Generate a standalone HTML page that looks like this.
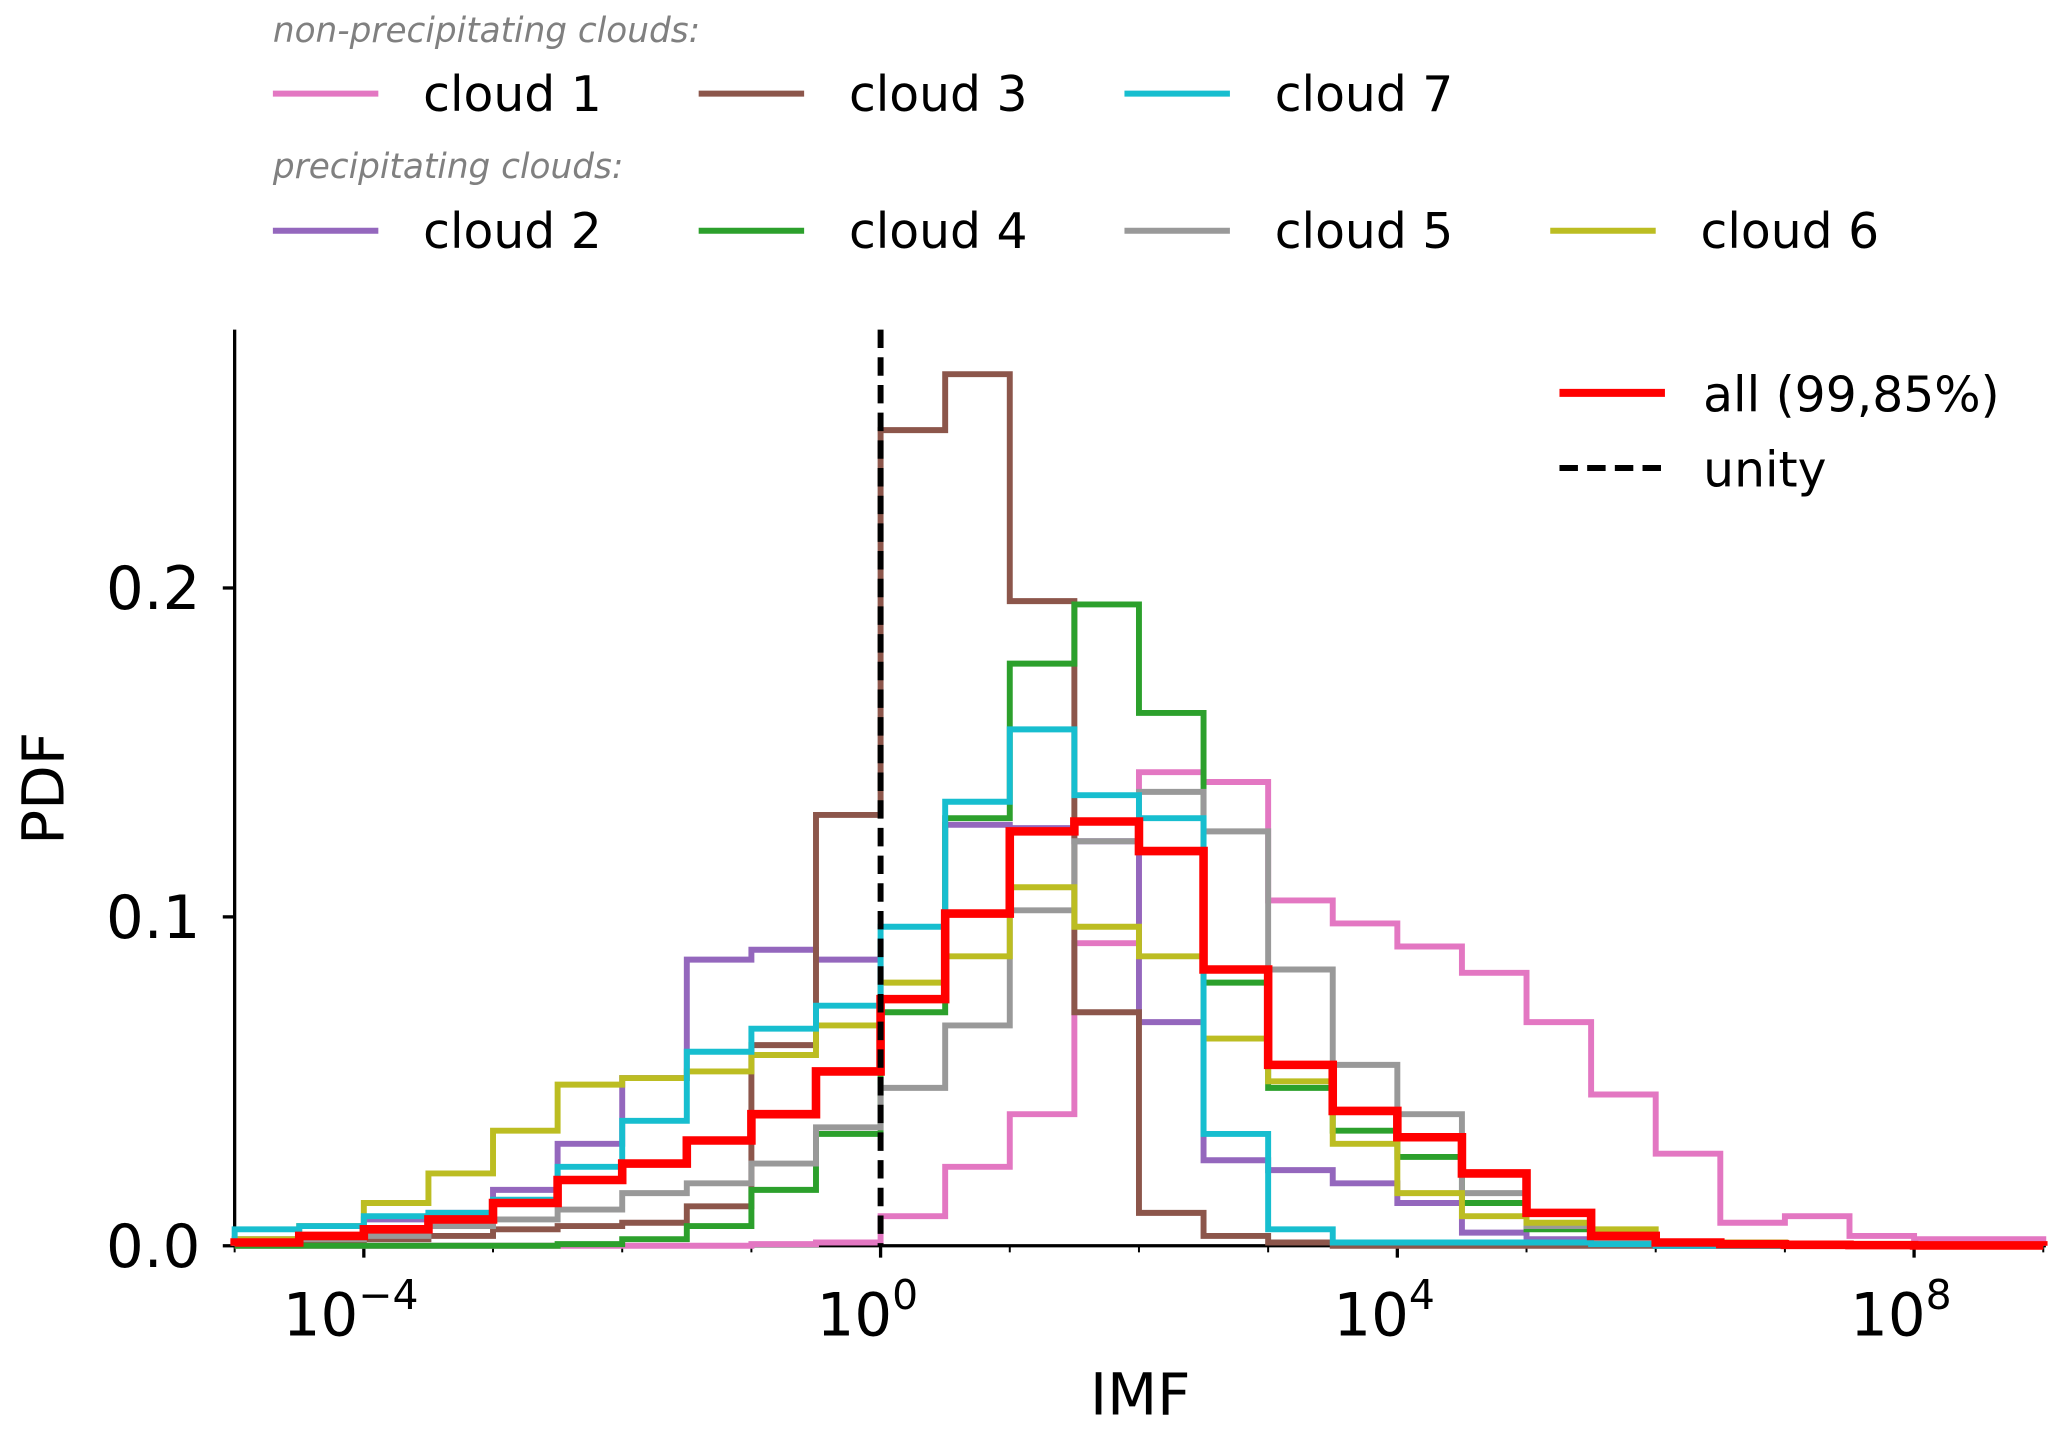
<!DOCTYPE html>
<html><head><meta charset="utf-8"><style>
html,body{margin:0;padding:0;background:#fff}
svg{display:block;font-family:"DejaVu Sans","Liberation Sans",sans-serif}
</style></head><body>
<svg id="chart" width="2067" height="1433" viewBox="0 0 1568 1087" xmlns="http://www.w3.org/2000/svg">
<g id="legend-top">
<text x="207" y="32" font-size="26" font-style="italic" fill="#808080">non-precipitating clouds:</text>
<text x="207" y="135" font-size="26" font-style="italic" fill="#808080">precipitating clouds:</text>
</g>
<g id="axes"></g>
<g id="marks"></g>
<g id="legend-inner">
<line x1="1183" y1="298" x2="1263" y2="298" stroke="#ff0000" stroke-width="6"/>
<text x="1292" y="312" font-size="37">all (99,85%)</text>
<line x1="1183" y1="355" x2="1263" y2="355" stroke="#000" stroke-width="4.5" stroke-dasharray="14,7"/>
<text x="1292" y="369" font-size="37">unity</text>
</g>
</svg>
<script>
const binExponents = [-5,-4.5,-4,-3.5,-3,-2.5,-2,-1.5,-1,-0.5,0,0.5,1,1.5,2,2.5,3,3.5,4,4.5,5,5.5,6,6.5,7,7.5,8,8.5,9];
const cloud1 = [0,0,0,0,0,0,0,0,0.0005,0.001,0.009,0.024,0.04,0.092,0.144,0.141,0.105,0.098,0.091,0.083,0.068,0.046,0.028,0.007,0.009,0.003,0.002,0.002];
const cloud2 = [0.002,0.003,0.008,0.01,0.017,0.031,0.051,0.087,0.09,0.087,0.075,0.128,0.127,0.123,0.068,0.026,0.023,0.019,0.013,0.004,0.002,0.001,0,0,0,0,0,0];
const cloud3 = [0.001,0.001,0.002,0.003,0.005,0.006,0.007,0.012,0.061,0.131,0.248,0.265,0.196,0.071,0.01,0.003,0.001,0,0,0,0,0,0,0,0,0,0,0];
const cloud4 = [0,0,0,0,0,0.0005,0.002,0.006,0.017,0.034,0.071,0.13,0.177,0.195,0.162,0.08,0.048,0.035,0.027,0.013,0.005,0.003,0.001,0,0,0,0,0];
const cloud5 = [0.001,0.002,0.003,0.006,0.008,0.011,0.016,0.019,0.025,0.036,0.048,0.067,0.102,0.123,0.138,0.126,0.084,0.055,0.04,0.016,0.006,0.002,0.001,0,0,0,0,0];
const cloud6 = [0.002,0.006,0.013,0.022,0.035,0.049,0.051,0.053,0.058,0.067,0.08,0.088,0.109,0.097,0.088,0.063,0.05,0.031,0.016,0.009,0.007,0.005,0.001,0.001,0,0,0,0];
const cloud7 = [0.005,0.006,0.009,0.01,0.014,0.024,0.038,0.059,0.066,0.073,0.097,0.135,0.157,0.137,0.13,0.034,0.005,0.001,0.001,0.001,0.001,0.0005,0,0,0,0,0,0];
const allClouds = [0.001,0.003,0.005,0.008,0.013,0.02,0.025,0.032,0.04,0.053,0.075,0.101,0.126,0.129,0.12,0.084,0.055,0.041,0.033,0.022,0.01,0.003,0.001,0.0005,0.0003,0.0002,0.0001,0.0001];
const yTicks = [0, 0.1, 0.2];
const yTickLabels = ["0.0","0.1","0.2"];
const xTickExps = [-4, 0, 4, 8];
const xTickLabels = ["\u22124","0","4","8"];
const unityExp = 0;

const NS="http://www.w3.org/2000/svg";
const X0=178, X1=1552, Y0=945, YTOP=250;
function xScale(e){return 668 + (e-0)*98;}
function yScale(v){return Y0 - v*2495;}
function mk(tag, attrs, parent){const el=document.createElementNS(NS,tag);for(const k in attrs)el.setAttribute(k,attrs[k]);parent.appendChild(el);return el;}
const axes=document.getElementById('axes'), marks=document.getElementById('marks'), lt=document.getElementById('legend-top');

let sp=mk('line',{x1:X0,y1:YTOP,x2:X0,y2:Y0+1,stroke:'#000','stroke-width':2.5},axes);


sp=mk('line',{x1:X0-1,y1:Y0,x2:X1,y2:Y0,stroke:'#000','stroke-width':2.5},axes);



yTicks.forEach((v,i)=>{
  const y=yScale(v);
  const t=mk('line',{x1:X0-9,y1:y,x2:X0,y2:y,stroke:'#000','stroke-width':2.5},axes);
  
  
  const tx=mk('text',{x:X0-26,y:y+16,'font-size':45,'text-anchor':'end'},axes);
  tx.textContent=yTickLabels[i];
  
  
});
for(let e=-5;e<=9;e++){
  const x=xScale(e);
  const t=mk('line',{x1:x,y1:Y0,x2:x,y2:Y0+5,stroke:'#000','stroke-width':1.5},axes);
  
  
}
xTickExps.forEach((e,i)=>{
  const x=xScale(e);
  const t=mk('line',{x1:x,y1:Y0,x2:x,y2:Y0+9,stroke:'#000','stroke-width':2.5},axes);
  
  
  const tx=mk('text',{x:x-10,y:Y0+68,'font-size':45,'text-anchor':'middle'},axes);
  
  
  tx.appendChild(document.createTextNode('10'));
  const ts=mk('tspan',{dy:-20,'font-size':31},tx);
  ts.textContent=xTickLabels[i];
});
let lab=mk('text',{x:865,y:1073,'font-size':44,'text-anchor':'middle'},axes);
lab.textContent='IMF';


lab=mk('text',{x:0,y:0,'font-size':44,'text-anchor':'middle',transform:'translate(48,598) rotate(-90)'},axes);
lab.textContent='PDF';



const series=[
 {d:cloud1,c:'#e377c2',w:4.5,n:'cloud 1'},
 {d:cloud2,c:'#9467bd',w:4.5,n:'cloud 2'},
 {d:cloud3,c:'#8c564b',w:4.5,n:'cloud 3'},
 {d:cloud4,c:'#2ca02c',w:4.5,n:'cloud 4'},
 {d:cloud5,c:'#999999',w:4.5,n:'cloud 5'},
 {d:cloud6,c:'#bcbd22',w:4.5,n:'cloud 6'},
 {d:cloud7,c:'#17becf',w:4.5,n:'cloud 7'},
 {d:allClouds,c:'#ff0000',w:6.5,n:'all'}
];
series.forEach(s=>{
  let p='M'+xScale(binExponents[0])+','+yScale(0);
  s.d.forEach((v,i)=>{p+=' L'+xScale(binExponents[i])+','+yScale(v)+' L'+xScale(binExponents[i+1])+','+yScale(v);});
  p+=' L'+xScale(binExponents[s.d.length])+','+yScale(0);
  const el=mk('path',{d:p,fill:'none',stroke:s.c,'stroke-width':s.w,'stroke-linejoin':'miter'},marks);
  
  
});
const ul=mk('line',{x1:xScale(unityExp),y1:YTOP,x2:xScale(unityExp),y2:Y0,stroke:'#000','stroke-width':4.5,'stroke-dasharray':'14,7'},marks);



const legendItems=[
 [series[0],0,71],[series[2],1,71],[series[6],2,71],
 [series[1],0,175],[series[3],1,175],[series[4],2,175],[series[5],3,175]
];
legendItems.forEach(([s,col,y])=>{
  const x=207+col*323;
  const l=mk('line',{x1:x,y1:y,x2:x+80,y2:y,stroke:s.c,'stroke-width':4.5},lt);
  
  
  const t=mk('text',{x:x+114,y:y+13,'font-size':37},lt);
  t.textContent=s.n;
  
  
});
</script>
</body></html>
